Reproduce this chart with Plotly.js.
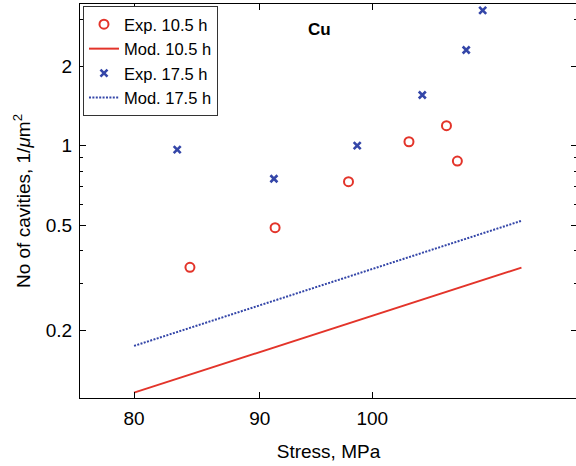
<!DOCTYPE html>
<html>
<head>
<meta charset="utf-8">
<script src="https://cdn.plot.ly/plotly-3.0.1.min.js"></script>
<style>html,body{margin:0;padding:0;overflow:hidden;background:#fff;}#chart{width:578px;height:466px;}</style>
</head>
<body>
<div id="chart"></div>
<script>
// Experimental data, 10.5 h (stress MPa, cavities per um^2)
const exp105Stress = [84.3, 91.3, 97.8, 103.5, 107.2, 108.3];
const exp105Cav    = [0.347, 0.49, 0.731, 1.035, 1.19, 0.875];
// Experimental data, 17.5 h
const exp175Stress = [83.3, 91.2, 98.6, 104.8, 109.2, 110.9];
const exp175Cav    = [0.966, 0.75, 1.0, 1.555, 2.30, 3.25];
// Model curves
const modStress  = [80, 90, 100, 115];
const mod105Cav  = [0.1165, 0.166, 0.228, 0.346];
const mod175Cav  = [0.175, 0.249, 0.342, 0.52];
// Tick labels
const xTicks = [80, 90, 100];
const yTicks = [0.2, 0.5, 1, 2];
const yTickText = ['0.2', '0.5', '1', '2'];
const yMinor = [0.3, 0.4, 0.6, 0.7, 0.8, 0.9, 3];

const red = '#e3342a';
const blue = '#3446a8';
const font = 'Liberation Sans, Arial, Helvetica, sans-serif';

const traces = [
  {x: exp105Stress, y: exp105Cav, mode: 'markers', name: 'Exp. 10.5 h',
   marker: {symbol: 'circle-open', size: 9, color: red, line: {width: 2, color: red}}},
  {x: modStress, y: mod105Cav, mode: 'lines', name: 'Mod. 10.5 h',
   line: {color: red, width: 2}},
  {x: exp175Stress, y: exp175Cav, mode: 'markers', name: 'Exp. 17.5 h',
   marker: {symbol: 'x-thin-open', size: 7, color: blue, line: {width: 2.6, color: blue}}},
  {x: modStress, y: mod175Cav, mode: 'lines', name: 'Mod. 17.5 h',
   line: {color: blue, width: 2, dash: '2px,1.4px'}}
];

const layout = {
  width: 578, height: 466,
  margin: {l: 80, r: 1, t: 4, b: 68},
  paper_bgcolor: '#fff', plot_bgcolor: '#fff',
  font: {family: font, size: 19, color: '#000'},
  showlegend: true,
  legend: {x: 0.006, y: 0.995, xanchor: 'left', yanchor: 'top',
           bgcolor: '#fff', bordercolor: '#333', borderwidth: 1,
           font: {family: font, size: 16.5, color: '#000'}, tracegroupgap: 0},
  xaxis: {type: 'log', range: [1.8811, 2.0833],
          tickmode: 'array', tickvals: xTicks, ticktext: xTicks.map(String),
          ticks: 'inside', ticklen: 6, tickwidth: 1, tickcolor: '#000',
          showline: true, linecolor: '#000', linewidth: 1, mirror: 'ticks',
          showgrid: false, zeroline: false, ticklabelstandoff: 3,
          tickfont: {family: font, size: 19, color: '#000'},
          title: {text: 'Stress, MPa', font: {family: font, size: 19, color: '#000'}, standoff: 16}},
  yaxis: {type: 'log', range: [-0.9539, 0.5357],
          tickmode: 'array', tickvals: yTicks, ticktext: yTickText,
          ticks: 'inside', ticklen: 6, tickwidth: 1, tickcolor: '#000',
          minor: {tickmode: 'array', tickvals: yMinor, ticks: 'inside', ticklen: 3, tickwidth: 1, tickcolor: '#000', showgrid: false},
          showline: true, linecolor: '#000', linewidth: 1, mirror: 'ticks',
          showgrid: false, zeroline: false, ticklabelstandoff: 3,
          tickfont: {family: font, size: 19, color: '#000'},
          title: {text: 'No of cavities, 1/<i>μ</i>m<sup>2</sup>', font: {family: font, size: 19, color: '#000'}, standoff: 10}},
  annotations: [{xref: 'paper', yref: 'paper', x: 0.481, y: 0.9365, xanchor: 'center', yanchor: 'middle',
                 text: '<b>Cu</b>', showarrow: false, font: {family: font, size: 17, color: '#000'}}]
};

Plotly.newPlot('chart', traces, layout, {displayModeBar: false, staticPlot: true});
</script>
</body>
</html>
